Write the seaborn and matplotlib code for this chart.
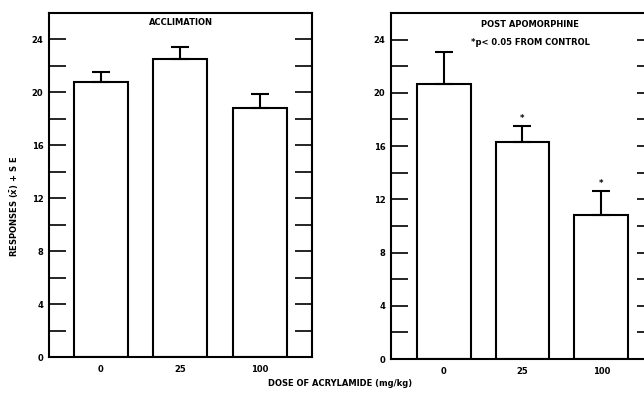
import matplotlib
matplotlib.use("Agg")
import matplotlib.pyplot as plt
import seaborn as sns
import pandas as pd
import numpy as np
from matplotlib.ticker import MultipleLocator

# ---- data ----
doses = ["0", "25", "100"]
accl_mean = [20.8, 22.55, 18.8]
accl_se = [0.75, 0.9, 1.1]
post_mean = [20.7, 16.3, 10.85]
post_se = [2.35, 1.2, 1.8]
post_signif = [False, True, True]

sns.set_theme(style="white")
plt.rcParams["font.family"] = ["DejaVu Sans"]
plt.rcParams["font.weight"] = "bold"
plt.rcParams["text.color"] = "black"
plt.rcParams["xtick.color"] = "black"
plt.rcParams["ytick.color"] = "black"
plt.rcParams["axes.labelcolor"] = "black"

fig = plt.figure(figsize=(6.44, 3.95), dpi=100)
ax1 = fig.add_axes([0.0761, 0.0962, 0.4084, 0.8709])
ax2 = fig.add_axes([0.6071, 0.0911, 0.4084, 0.8760])

LW = 1.5
FS = 6


def panel(ax, means, ses, xlim):
    df = pd.DataFrame({"dose": doses, "mean": means})
    sns.barplot(data=df, x="dose", y="mean", ax=ax, color="white",
                edgecolor="black", linewidth=LW, width=0.68, errorbar=None,
                order=doses)
    for p in ax.patches:
        p.set_facecolor("white")
    xs = np.arange(len(doses))
    ax.errorbar(xs, means, yerr=[np.zeros(len(ses)), ses], fmt="none",
                ecolor="black", elinewidth=LW, capsize=6.5, capthick=LW,
                zorder=1)
    ax.set_xlim(*xlim)
    ax.set_ylim(0, 26)
    ax.set_xlabel("")
    ax.set_ylabel("")
    ax.set_yticks([0, 4, 8, 12, 16, 20, 24])
    ax.yaxis.set_minor_locator(MultipleLocator(2))
    ax.tick_params(axis="y", which="both", direction="in", left=True,
                   right=True, length=12, width=1.2, color="black",
                   labelcolor="black", labelsize=FS, pad=4)
    ax.tick_params(axis="x", which="both", bottom=False, top=False,
                   length=0, labelcolor="black", labelsize=FS, pad=6)
    for lab in ax.get_xticklabels() + ax.get_yticklabels():
        lab.set_fontweight("bold")
    for s in ax.spines.values():
        s.set_visible(True)
        s.set_color("black")
        s.set_linewidth(LW)
    ax.set_facecolor("white")


panel(ax1, accl_mean, accl_se, (-0.65, 2.66))
panel(ax2, post_mean, post_se, (-0.67, 2.67))

ax1.text(0.5, 0.972, "ACCLIMATION", transform=ax1.transAxes, ha="center",
         va="center", fontsize=FS, fontweight="bold", color="black")
ax2.text(0.53, 0.968, "POST APOMORPHINE", transform=ax2.transAxes,
         ha="center", va="center", fontsize=FS, fontweight="bold",
         color="black")
ax2.text(0.53, 0.914, "*p< 0.05 FROM CONTROL", transform=ax2.transAxes,
         ha="center", va="center", fontsize=FS, fontweight="bold",
         color="black")

for i, (m, s, sig) in enumerate(zip(post_mean, post_se, post_signif)):
    if sig:
        ax2.annotate("*", (i, m + s), xytext=(0, 2), textcoords="offset points",
                     ha="center", va="bottom", fontsize=FS, fontweight="bold",
                     color="black")

fig.text(0.023, 0.478, r"RESPONSES ($\bar{\mathbf{x}}$) + S E", rotation=90,
         ha="center", va="center", fontsize=FS, fontweight="bold",
         color="black")
fig.text(0.528, 0.028, "DOSE OF ACRYLAMIDE (mg/kg)", ha="center",
         va="center", fontsize=FS, fontweight="bold", color="black")

fig.savefig("out.png", dpi=100, facecolor="white")
